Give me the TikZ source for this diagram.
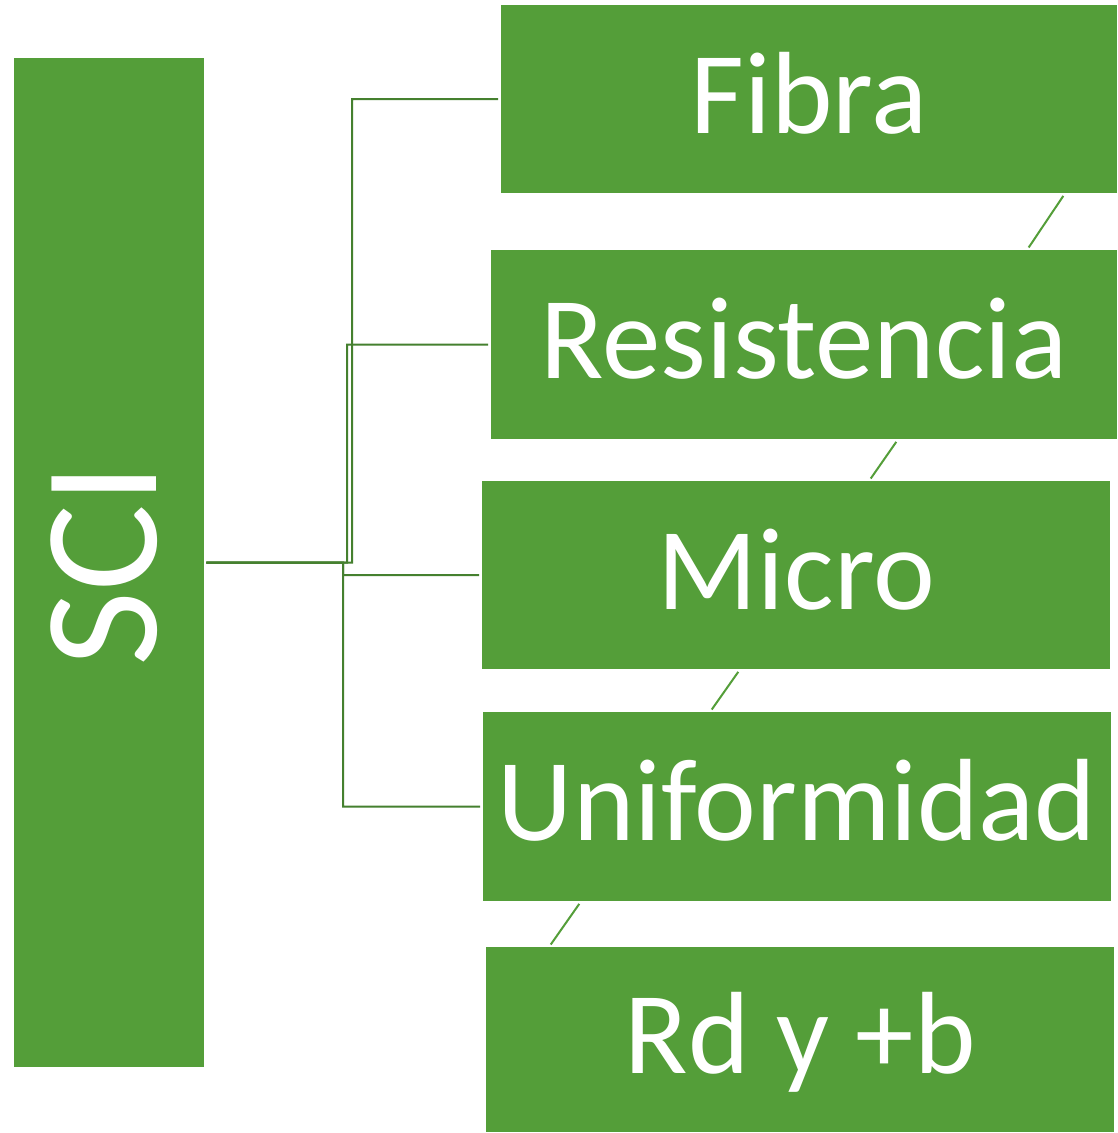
\documentclass[tikz,border=0pt]{standalone}
\usepackage{fontspec}
\setmainfont{Carlito}
\definecolor{boxg}{HTML}{549E39}
\definecolor{lineg}{HTML}{45802F}
\begin{document}
\begin{tikzpicture}[x=1pt,y=-1pt,
  gbox/.style={draw=none,fill=boxg,inner sep=0pt,anchor=north west},
  lbl/.style={text=white,inner sep=0pt,anchor=base,font=\fontsize{117}{140}\selectfont},
  conn/.style={draw=lineg,line width=2pt,shorten <=2pt,shorten >=3pt},
  diag/.style={draw=boxg,line width=2pt,shorten <=3pt,shorten >=3pt}]
\useasboundingbox[fill=white] (0,0) rectangle (1117,1133);
% boxes
\node[gbox,minimum width=190pt,minimum height=1009pt] (sci) at (14,58) {};
\node[gbox,minimum width=616pt,minimum height=188pt] (fib) at (501,5) {};
\node[gbox,minimum width=626pt,minimum height=189pt] (res) at (491,250) {};
\node[gbox,minimum width=628pt,minimum height=188pt] (mic) at (482,481) {};
\node[gbox,minimum width=628pt,minimum height=189pt] (uni) at (483,712) {};
\node[gbox,minimum width=628pt,minimum height=185pt] (rdb) at (486,947) {};
% labels
\node[lbl,rotate=90,font=\fontsize{163}{190}\selectfont] (scit) at (156,565) {SCI};
\node[lbl] (fibt) at ([yshift=-34pt]fib.center) {Fibra};
\node[lbl] (rest) at ([yshift=-34pt]res.center) {Resistencia};
\node[lbl] (mict) at ([yshift=-34pt]mic.center) {Micro};
\node[lbl] (unit) at ([yshift=-34pt]uni.center) {Uniformidad};
\node[lbl] (rdbt) at ([yshift=-34pt]rdb.center) {Rd y +b};
% connectors
\draw[conn] (sci.east) -- (352,562.5) |- (fib.west);
\draw[conn] (sci.east) -- (347,562.5) |- (res.west);
\draw[conn] (sci.east) -- (343,562.5) |- (mic.west);
\draw[conn] (sci.east) -- (343,562.5) |- (uni.west);
% diagonal links
\draw[diag] (fib.south -| 1065,0) -- (res.north -| 1027,0);
\draw[diag] (res.south -| 898,0) -- (mic.north -| 869,0);
\draw[diag] (mic.south -| 740,0) -- (uni.north -| 710,0);
\draw[diag] (uni.south -| 581,0) -- (rdb.north -| 549,0);
\end{tikzpicture}
\end{document}
